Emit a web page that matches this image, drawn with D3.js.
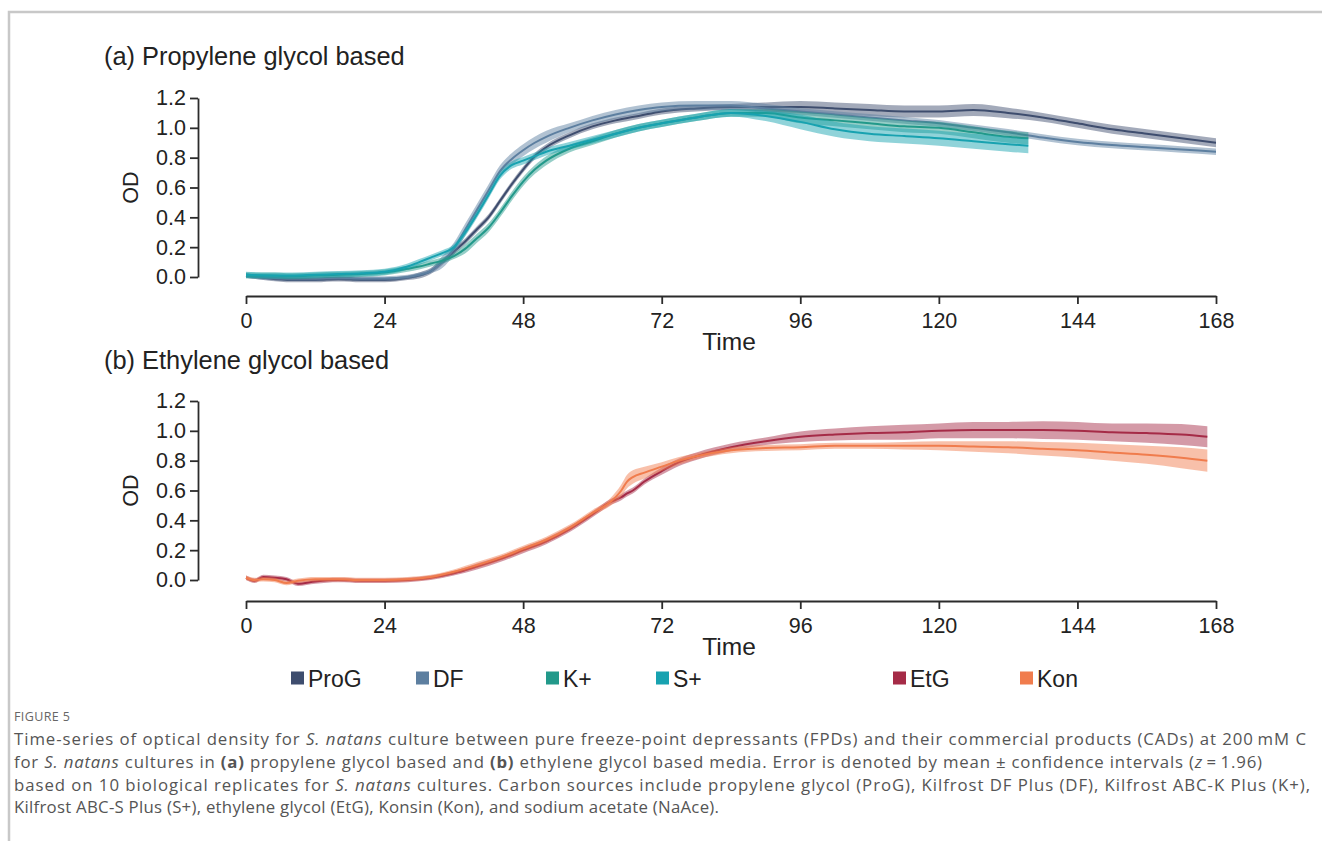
<!DOCTYPE html>
<html>
<head>
<meta charset="utf-8">
<script src="https://cdn.jsdelivr.net/npm/d3@7"></script>
<style>
  body { margin: 0; background: #fff; }
  svg { display: block; }
</style>
</head>
<body>
<div id="chart"></div>
<script>
// ---- data (hours, OD) ----
const timeA = [0, 2, 4, 8, 12, 16, 20, 24, 28, 30, 32, 34, 36, 38, 40, 42, 44, 46, 48, 50, 52, 56, 60, 64, 68, 72, 78, 84, 90, 96, 102, 108, 114, 120, 126, 132, 138, 144, 150, 156, 162, 168];
const progMean = [0.01, 0.0, -0.01, -0.02, -0.02, -0.015, -0.02, -0.02, -0.005, 0.01, 0.04, 0.10, 0.17, 0.24, 0.32, 0.40, 0.51, 0.62, 0.72, 0.81, 0.87, 0.95, 1.01, 1.05, 1.08, 1.11, 1.13, 1.14, 1.14, 1.14, 1.13, 1.12, 1.11, 1.11, 1.12, 1.10, 1.07, 1.03, 0.99, 0.96, 0.93, 0.90];
const progCi = [0.015, 0.015, 0.015, 0.015, 0.015, 0.015, 0.015, 0.015, 0.015, 0.02, 0.02, 0.02, 0.02, 0.02, 0.02, 0.02, 0.02, 0.02, 0.02, 0.02, 0.02, 0.02, 0.02, 0.02, 0.02, 0.02, 0.02, 0.02, 0.03, 0.04, 0.04, 0.04, 0.04, 0.04, 0.04, 0.035, 0.03, 0.03, 0.03, 0.03, 0.03, 0.03];
const dfMean = [0.01, 0.0, -0.005, -0.01, -0.01, -0.005, -0.01, -0.01, 0.0, 0.015, 0.04, 0.10, 0.19, 0.32, 0.45, 0.58, 0.71, 0.79, 0.85, 0.90, 0.94, 1.00, 1.05, 1.09, 1.12, 1.14, 1.15, 1.15, 1.13, 1.11, 1.09, 1.07, 1.05, 1.03, 1.00, 0.97, 0.935, 0.905, 0.885, 0.87, 0.855, 0.84];
const dfCi = [0.015, 0.015, 0.015, 0.015, 0.015, 0.015, 0.015, 0.015, 0.015, 0.015, 0.015, 0.04, 0.04, 0.04, 0.04, 0.04, 0.04, 0.04, 0.04, 0.04, 0.04, 0.03, 0.03, 0.03, 0.03, 0.03, 0.03, 0.03, 0.03, 0.022, 0.022, 0.022, 0.022, 0.022, 0.022, 0.022, 0.022, 0.022, 0.022, 0.022, 0.022, 0.022];

const timeS = [0, 4, 8, 12, 16, 20, 24, 28, 30, 32, 34, 36, 38, 40, 42, 44, 46, 48, 50, 52, 56, 60, 64, 68, 72, 78, 84, 90, 96, 102, 108, 114, 120, 126, 132, 135.5];
const kMean = [0.01, 0.01, 0.005, 0.01, 0.015, 0.02, 0.03, 0.055, 0.07, 0.09, 0.11, 0.14, 0.19, 0.26, 0.33, 0.43, 0.54, 0.64, 0.72, 0.78, 0.86, 0.91, 0.96, 1.00, 1.03, 1.07, 1.10, 1.10, 1.07, 1.05, 1.03, 1.01, 1.00, 0.97, 0.94, 0.93];
const kCi = [0.02, 0.02, 0.02, 0.02, 0.02, 0.02, 0.02, 0.02, 0.02, 0.02, 0.02, 0.02, 0.03, 0.03, 0.03, 0.03, 0.03, 0.03, 0.03, 0.03, 0.025, 0.025, 0.025, 0.025, 0.025, 0.025, 0.025, 0.025, 0.04, 0.04, 0.04, 0.04, 0.04, 0.04, 0.04, 0.04];
const sMean = [0.015, 0.01, 0.01, 0.015, 0.02, 0.025, 0.035, 0.07, 0.10, 0.13, 0.16, 0.20, 0.30, 0.42, 0.55, 0.68, 0.75, 0.78, 0.81, 0.84, 0.88, 0.92, 0.96, 1.00, 1.03, 1.07, 1.10, 1.08, 1.04, 0.99, 0.96, 0.945, 0.93, 0.91, 0.89, 0.88];
const sCi = [0.02, 0.02, 0.02, 0.02, 0.02, 0.02, 0.02, 0.02, 0.02, 0.02, 0.02, 0.02, 0.025, 0.025, 0.025, 0.025, 0.025, 0.025, 0.025, 0.025, 0.025, 0.025, 0.025, 0.025, 0.025, 0.025, 0.025, 0.035, 0.05, 0.05, 0.05, 0.05, 0.05, 0.05, 0.05, 0.05];

const timeB = [0, 1.5, 3, 5, 7, 9, 12, 16, 20, 24, 28, 32, 36, 40, 44, 48, 52, 56, 60, 63, 65, 66, 67, 69, 72, 75, 78, 84, 90, 96, 102, 108, 114, 120, 126, 132, 138, 144, 150, 156, 162, 166.5];
const etgMean = [0.015, -0.005, 0.02, 0.015, 0.005, -0.025, -0.01, 0.0, -0.005, -0.005, 0.0, 0.015, 0.045, 0.09, 0.14, 0.20, 0.26, 0.34, 0.44, 0.52, 0.555, 0.58, 0.60, 0.66, 0.73, 0.79, 0.83, 0.89, 0.93, 0.96, 0.975, 0.985, 0.99, 1.00, 1.005, 1.005, 1.005, 1.0, 0.99, 0.985, 0.975, 0.96];
const etgCi = [0.015, 0.015, 0.015, 0.015, 0.015, 0.015, 0.015, 0.015, 0.015, 0.015, 0.015, 0.015, 0.015, 0.02, 0.02, 0.02, 0.02, 0.02, 0.02, 0.02, 0.02, 0.02, 0.02, 0.02, 0.025, 0.025, 0.025, 0.025, 0.025, 0.035, 0.04, 0.045, 0.05, 0.05, 0.055, 0.055, 0.06, 0.06, 0.06, 0.065, 0.07, 0.07];
const konMean = [0.015, 0.0, 0.005, 0.0, -0.02, -0.005, 0.005, 0.005, 0.0, 0.0, 0.005, 0.02, 0.055, 0.10, 0.15, 0.21, 0.27, 0.35, 0.45, 0.52, 0.60, 0.66, 0.69, 0.72, 0.76, 0.80, 0.83, 0.87, 0.885, 0.89, 0.90, 0.90, 0.90, 0.90, 0.895, 0.89, 0.88, 0.87, 0.855, 0.84, 0.82, 0.80];
const konCi = [0.015, 0.015, 0.015, 0.015, 0.015, 0.015, 0.015, 0.015, 0.015, 0.015, 0.015, 0.015, 0.015, 0.02, 0.02, 0.02, 0.02, 0.02, 0.02, 0.025, 0.04, 0.045, 0.045, 0.04, 0.03, 0.025, 0.02, 0.02, 0.02, 0.02, 0.02, 0.02, 0.025, 0.03, 0.035, 0.04, 0.045, 0.05, 0.055, 0.06, 0.07, 0.075];

const xTicks = [0, 24, 48, 72, 96, 120, 144, 168];
const yTicks = [0, 0.2, 0.4, 0.6, 0.8, 1.0, 1.2];

const legendNames = ["ProG", "DF", "K+", "S+", "EtG", "Kon"];
const legendColors = ["#3e4d6e", "#5d7fa0", "#22998a", "#18a2b0", "#a52b47", "#f07c4d"];
const legendX = [291, 416, 546, 656, 893, 1020];

// ---- svg ----
const W = 1322, H = 841;
const svg = d3.select("#chart").append("svg")
    .attr("width", W)
    .attr("height", H);

// page frame (top + left rule)
svg.append("path")
    .attr("d", `M9,${H} L9,12 L${W},12`)
    .attr("fill", "none")
    .attr("stroke", "#c8c8c8")
    .attr("stroke-width", 2.5);

const font = "'Liberation Sans', Arial, sans-serif";
const col = name => legendColors[legendNames.indexOf(name)];

const x = d3.scaleLinear().domain([0, 168]).range([246, 1216]);

function drawPanel(opts) {
    const y = d3.scaleLinear().domain([0, 1.2]).range([opts.y0, opts.y0 - 179]);
    const g = svg.append("g");

    // bands + lines
    opts.series.forEach(s => {
        const pts = s.t.map((t, i) => ({ t: t, m: s.mean[i], c: s.ci[i] }));
        g.append("path")
            .datum(pts)
            .attr("fill", col(s.name))
            .attr("fill-opacity", 0.48)
            .attr("d", d3.area()
                .curve(d3.curveMonotoneX)
                .x(d => x(d.t))
                .y0(d => y(d.m - d.c))
                .y1(d => y(d.m + d.c)));
        g.append("path")
            .datum(pts)
            .attr("fill", "none")
            .attr("stroke", col(s.name))
            .attr("stroke-width", 2)
            .attr("d", d3.line()
                .curve(d3.curveMonotoneX)
                .x(d => x(d.t))
                .y(d => y(d.m)));
    });

    // y axis
    const ya = g.append("g")
        .attr("transform", "translate(198,0)")
        .call(d3.axisLeft(y).tickValues(yTicks).tickFormat(d3.format(".1f")).tickSize(8).tickSizeOuter(0));
    // x axis
    const xa = g.append("g")
        .attr("transform", `translate(0,${opts.xAxisY})`)
        .call(d3.axisBottom(x).tickValues(xTicks).tickSize(8).tickSizeOuter(0));
    [ya, xa].forEach(a => {
        a.selectAll("path, line").attr("stroke", "#2b2b2b").attr("stroke-width", 1.8);
        a.selectAll("text").attr("fill", "#222").style("font-family", font).style("font-size", "21.5px");
    });
    ya.selectAll("text").attr("x", -12);
    xa.selectAll("text").attr("y", 32).attr("dy", 0);

    // axis labels
    g.append("text")
        .attr("x", 729)
        .attr("y", opts.xAxisY + 54)
        .attr("text-anchor", "middle")
        .style("font-family", font).style("font-size", "24.5px").attr("fill", "#222")
        .text("Time");
    g.append("text")
        .attr("transform", `translate(138,${opts.y0 - 89.5}) rotate(-90)`)
        .attr("text-anchor", "middle")
        .style("font-family", font).style("font-size", "21.5px").attr("fill", "#222")
        .text("OD");

    // panel title
    g.append("text")
        .attr("x", 104)
        .attr("y", opts.titleY)
        .style("font-family", font).style("font-size", "25.4px").attr("fill", "#222")
        .text(opts.title);
}

drawPanel({
    title: "(a) Propylene glycol based",
    titleY: 65,
    y0: 277,
    xAxisY: 296,
    series: [
        { name: "ProG", t: timeA, mean: progMean, ci: progCi },
        { name: "DF", t: timeA, mean: dfMean, ci: dfCi },
        { name: "K+", t: timeS, mean: kMean, ci: kCi },
        { name: "S+", t: timeS, mean: sMean, ci: sCi }
    ]
});

drawPanel({
    title: "(b) Ethylene glycol based",
    titleY: 369,
    y0: 580,
    xAxisY: 601,
    series: [
        { name: "EtG", t: timeB, mean: etgMean, ci: etgCi },
        { name: "Kon", t: timeB, mean: konMean, ci: konCi }
    ]
});

// legend
const leg = svg.append("g");
legendNames.forEach((n, i) => {
    leg.append("rect")
        .attr("x", legendX[i]).attr("y", 671.5)
        .attr("width", 13).attr("height", 13)
        .attr("fill", legendColors[i]);
    leg.append("text")
        .attr("x", legendX[i] + 17).attr("y", 686.5)
        .style("font-family", font).style("font-size", "23px").attr("fill", "#222")
        .text(n);
});

// caption
const capFont = "'Open Sans', 'Noto Sans', sans-serif";
svg.append("text")
    .attr("x", 14).attr("y", 721)
    .style("font-family", capFont).style("font-size", "12.5px")
    .style("letter-spacing", "0.4px")
    .attr("fill", "#666")
    .text("FIGURE 5");

const capLines = [
    [["Time-series of optical density for ", ""], ["S. natans", "i"], [" culture between pure freeze-point depressants (FPDs) and their commercial products (CADs) at 200\u2009mM C", ""]],
    [["for ", ""], ["S. natans", "i"], [" cultures in ", ""], ["(a)", "b"], [" propylene glycol based and ", ""], ["(b)", "b"], [" ethylene glycol based media. Error is denoted by mean \u00b1 confidence intervals (", ""], ["z", "i"], ["\u2009=\u20091.96)", ""]],
    [["based on 10 biological replicates for ", ""], ["S. natans", "i"], [" cultures. Carbon sources include propylene glycol (ProG), Kilfrost DF Plus (DF), Kilfrost ABC-K Plus (K+),", ""]],
    [["Kilfrost ABC-S Plus (S+), ethylene glycol (EtG), Konsin (Kon), and sodium acetate (NaAce).", ""]]
];
const capBase = [745, 768, 790.5, 813];
const capWidth = [1292, 1248, 1296, 705];
capLines.forEach((line, i) => {
    const t = svg.append("text")
        .attr("x", 14).attr("y", capBase[i])
        .attr("textLength", capWidth[i])
        .attr("lengthAdjust", "spacing")
        .style("font-family", capFont).style("font-size", "16.8px")
        .attr("fill", "#555");
    line.forEach(seg => {
        t.append("tspan")
            .style("font-style", seg[1] === "i" ? "italic" : "normal")
            .style("font-weight", seg[1] === "b" ? "bold" : "normal")
            .text(seg[0]);
    });
});
</script>
</body>
</html>
